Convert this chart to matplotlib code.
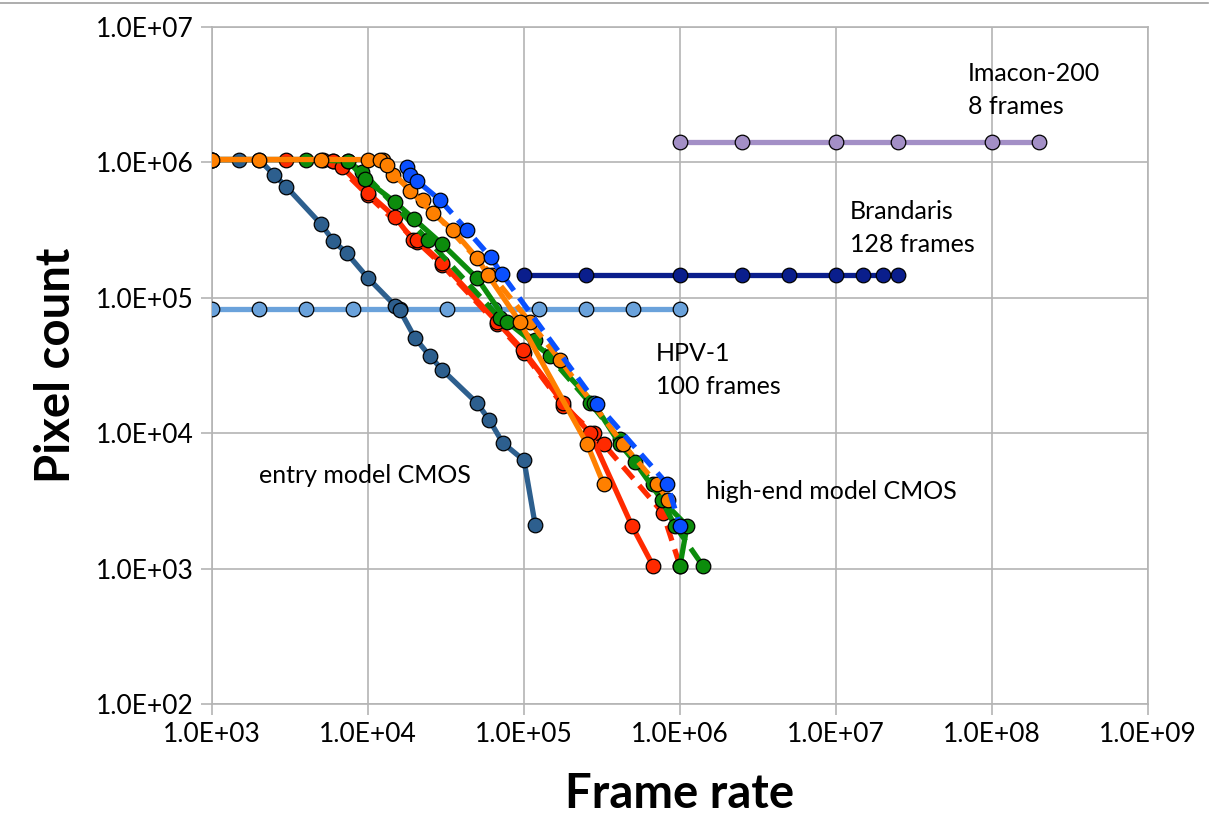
import matplotlib
matplotlib.use("Agg")
import matplotlib.pyplot as plt
from matplotlib.lines import Line2D

plt.rcParams['font.family'] = ['Lato', 'DejaVu Sans']

# ---------------- data ----------------
entry_x = [1e3, 1.5e3, 2e3, 2.5e3, 3e3, 5e3, 6e3, 7.3e3, 1e4, 1.5e4, 1.6e4, 2e4, 2.5e4, 3e4, 5e4, 6e4, 7.3e4, 1e5, 1.18e5]
entry_y = [1.05e6, 1.05e6, 1.05e6, 8.1e5, 6.6e5, 3.5e5, 2.63e5, 2.14e5, 1.4e5, 8.7e4, 8.1e4, 5.05e4, 3.7e4, 2.93e4, 1.67e4, 1.25e4, 8.5e3, 6.3e3, 2.1e3]

hpv_x = [1e3, 2e3, 4e3, 8e3, 1.6e4, 3.2e4, 6.4e4, 1.25e5, 2.5e5, 5e5, 1e6]
hpv_y = [8.2e4] * 11

brandaris_x = [1e5, 2.5e5, 1e6, 2.5e6, 5e6, 1e7, 1.5e7, 2e7, 2.5e7]
brandaris_y = [1.47e5] * 9

imacon_x = [1e6, 2.5e6, 1e7, 2.5e7, 1e8, 2e8]
imacon_y = [1.42e6] * 6

orange_x = [1e3, 2e3, 5e3, 1e4, 1.19e4, 1.32e4, 1.86e4, 2.61e4, 3.5e4, 5.0e4, 5.88e4, 9.4e4, 2.54e5, 3.24e5]
orange_y = [1.05e6, 1.05e6, 1.05e6, 1.05e6, 1.05e6, 9.5e5, 6.15e5, 4.23e5, 3.16e5, 1.97e5, 1.47e5, 6.63e4, 8.3e3, 4.2e3]

orange_d_x = [1.25e4, 1.45e4, 2.24e4, 6.24e4, 1.09e5, 1.7e5, 4.31e5, 7.13e5, 8.4e5]
orange_d_y = [1.05e6, 8.1e5, 5.27e5, 1.47e5, 6.63e4, 3.47e4, 8.3e3, 4.2e3, 3.2e3]

red_x = [1e3, 3e3, 5.15e3, 6e3, 6.8e3, 1e4, 1.49e4, 1.94e4, 2.06e4, 2.98e4, 6.72e4, 9.86e4, 1.78e5, 2.65e5, 4.92e5, 6.72e5]
red_y = [1.05e6, 1.05e6, 1.05e6, 1.02e6, 9.25e5, 5.94e5, 3.95e5, 2.67e5, 2.67e5, 1.81e5, 6.63e4, 4.11e4, 1.67e4, 1.0e4, 2.07e3, 1.05e3]

red_d_x = [6e3, 1e4, 2.06e4, 2.98e4, 6.72e4, 1.0e5, 1.78e5, 2.79e5, 3.24e5, 7.78e5, 1e6]
red_d_y = [1.02e6, 5.7e5, 2.6e5, 1.75e5, 6.4e4, 3.9e4, 1.6e4, 1.0e4, 8.3e3, 2.57e3, 1.05e3]

green_x = [1e3, 4e3, 7.45e3, 9.6e3, 1.49e4, 1.97e4, 2.98e4, 5.0e4, 7.8e4, 1.47e5, 2.79e5, 4.12e5, 5.15e5, 7.67e5, 1.11e6, 1e6]
green_y = [1.05e6, 1.05e6, 1.02e6, 7.5e5, 5.1e5, 3.82e5, 2.5e5, 1.4e5, 6.63e4, 3.72e4, 1.67e4, 8.3e3, 6.1e3, 3.2e3, 2.07e3, 1.05e3]

green_d_x = [7.45e3, 9.2e3, 2.42e4, 7.0e4, 1.18e5, 2.65e5, 4.12e5, 6.72e5, 9.3e5, 1.4e6]
green_d_y = [1.02e6, 8.5e5, 2.67e5, 7.1e4, 4.88e4, 1.67e4, 9.0e3, 4.2e3, 2.07e3, 1.05e3]

blue_d_x = [1.78e4, 1.86e4, 2.06e4, 2.9e4, 4.3e4, 6.1e4, 7.2e4, 2.94e5, 8.3e5, 1e6]
blue_d_y = [9.25e5, 8.07e5, 7.3e5, 5.27e5, 3.17e5, 2.0e5, 1.5e5, 1.64e4, 4.2e3, 2.07e3]

x_ticks = [1e3, 1e4, 1e5, 1e6, 1e7, 1e8, 1e9]
y_ticks = [1e2, 1e3, 1e4, 1e5, 1e6, 1e7]
tick_labels_x = ["1.0E+03", "1.0E+04", "1.0E+05", "1.0E+06", "1.0E+07", "1.0E+08", "1.0E+09"]
tick_labels_y = ["1.0E+02", "1.0E+03", "1.0E+04", "1.0E+05", "1.0E+06", "1.0E+07"]

# ---------------- figure ----------------
fig = plt.figure(figsize=(12.11, 8.36), dpi=100)
ax = fig.add_axes([212/1211, 1-704/836, (1148-212)/1211, (704-27)/836])
ax.set_xscale('log')
ax.set_yscale('log')
ax.set_xlim(1e3, 1e9)
ax.set_ylim(1e2, 1e7)

grid_c = '#B4B4B4'
ax.set_xticks(x_ticks)
ax.set_xticklabels(tick_labels_x)
ax.set_yticks(y_ticks)
ax.set_yticklabels(tick_labels_y)
ax.minorticks_off()
ax.tick_params(axis='both', which='major', length=8, width=1.2, color=grid_c,
               labelsize=19, pad=5)
ax.grid(True, which='major', color=grid_c, linewidth=1.2)
for s in ax.spines.values():
    s.set_color(grid_c)
    s.set_linewidth(1.2)
ax.set_axisbelow(True)

lw = 3.8
ms = 10.5
mk = dict(marker='o', markersize=ms, markeredgecolor='black', markeredgewidth=0.9)
dash = (0, (3.0, 1.7))

ax.plot(hpv_x, hpv_y, color='#6AA2DB', lw=lw, markerfacecolor='#6AA2DB', **mk, zorder=3)
ax.plot(entry_x, entry_y, color='#2D5F8E', lw=lw, markerfacecolor='#2D5F8E', **mk, zorder=4)
ax.plot(brandaris_x, brandaris_y, color='#0A1E8C', lw=lw, markerfacecolor='#0A1E8C', **mk, zorder=4)
ax.plot(imacon_x, imacon_y, color='#A38FC6', lw=lw, markerfacecolor='#A38FC6', **mk, zorder=4)

ax.plot(red_d_x, red_d_y, color='#FF2A00', lw=lw, linestyle=dash, markerfacecolor='#FF2A00', **mk, zorder=5)
ax.plot(red_x, red_y, color='#FF2A00', lw=lw, markerfacecolor='#FF2A00', **mk, zorder=5)
ax.plot(green_d_x, green_d_y, color='#0C8C0C', lw=lw, linestyle=dash, markerfacecolor='#0C8C0C', **mk, zorder=6)
ax.plot(green_x, green_y, color='#0C8C0C', lw=lw, markerfacecolor='#0C8C0C', **mk, zorder=6)
ax.plot(orange_d_x, orange_d_y, color='#FF8000', lw=lw, linestyle=dash, markerfacecolor='#FF8000', **mk, zorder=7)
ax.plot(orange_x, orange_y, color='#FF8000', lw=lw, markerfacecolor='#FF8000', **mk, zorder=7)
ax.plot(blue_d_x, blue_d_y, color='#0A50FF', lw=lw, linestyle=dash, markerfacecolor='#0A50FF', **mk, zorder=8)

tfs = 18
ax.text(7.0e7, 3.43e6, "Imacon-200\n8 frames", fontsize=tfs, va='center', ha='left', linespacing=1.5)
ax.text(1.23e7, 3.28e5, "Brandaris\n128 frames", fontsize=tfs, va='center', ha='left', linespacing=1.5)
ax.text(7.0e5, 2.93e4, "HPV-1\n100 frames", fontsize=tfs, va='center', ha='left', linespacing=1.5)
ax.text(2.0e3, 4.83e3, "entry model CMOS", fontsize=tfs, va='center', ha='left')
ax.text(1.47e6, 3.68e3, "high-end model CMOS", fontsize=tfs, va='center', ha='left')

ax.set_xlabel("Frame rate", fontsize=34, fontweight='bold', labelpad=18)
ax.set_ylabel("Pixel count", fontsize=34, fontweight='bold', labelpad=13)

fig.add_artist(Line2D([0, 1208/1211], [1-3/836, 1-3/836], color='#A0A0A0', lw=1.2, transform=fig.transFigure))

fig.savefig("out.png", dpi=100)
